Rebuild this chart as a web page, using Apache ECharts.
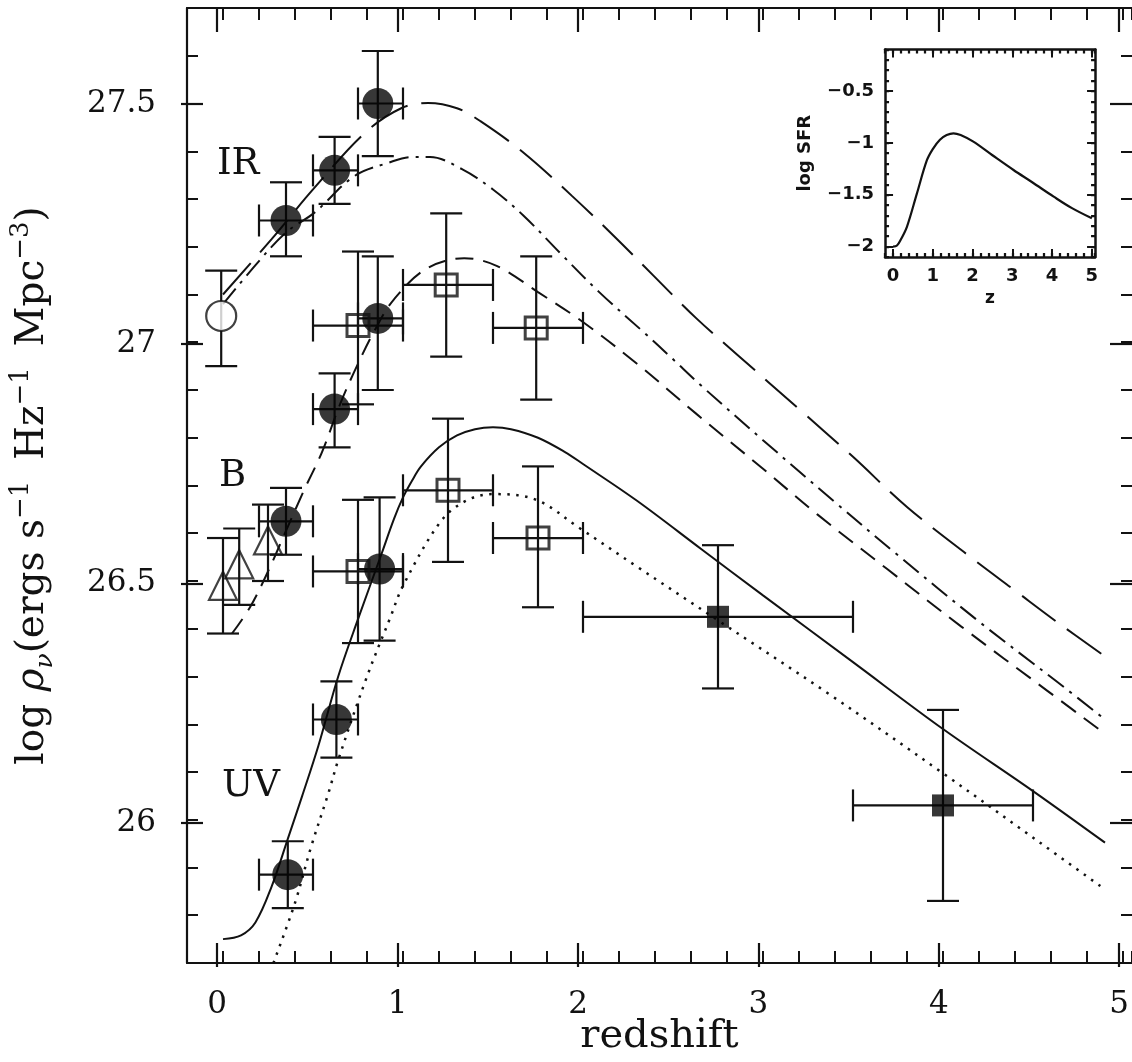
<!DOCTYPE html>
<html><head><meta charset="utf-8">
<script src="https://cdn.jsdelivr.net/npm/echarts@6/dist/echarts.min.js"></script>
<style>html,body{margin:0;padding:0;background:#fff}#c{width:1132px;height:1062px}</style>
</head><body><div id="c"></div>
<script>
// ---------- tick labels ----------
const X_TICKS = [0, 1, 2, 3, 4, 5];
const Y_TICKS = [26, 26.5, 27, 27.5];
const INSET_X_TICKS = [0, 1, 2, 3, 4, 5];
const INSET_Y_TICKS = [-2, -1.5, -1, -0.5];

// ---------- data points: [z, value, zLow, zHigh, valueLow, valueHigh] ----------
const IR_FILLED = [
  [0.35, 27.255, 0.2, 0.5, 27.18, 27.335],
  [0.62, 27.36, 0.5, 0.75, 27.29, 27.43],
  [0.86, 27.50, 0.75, 1.0, 27.39, 27.61]
];
const IR_OPEN = [
  [-0.01, 27.055, null, null, 26.95, 27.15]
];
const B_FILLED = [
  [0.35, 26.625, 0.2, 0.5, 26.555, 26.695],
  [0.62, 26.86, 0.5, 0.75, 26.78, 26.935],
  [0.86, 27.05, 0.75, 1.0, 26.90, 27.18]
];
const B_TRIANGLES = [
  [0.0, 26.49, null, null, 26.39, 26.59],
  [0.09, 26.535, null, null, 26.45, 26.61],
  [0.25, 26.585, null, null, 26.50, 26.66]
];
const B_SQUARES = [
  [0.75, 27.035, 0.5, 1.0, 26.87, 27.19],
  [1.24, 27.12, 1.0, 1.5, 26.97, 27.27],
  [1.74, 27.03, 1.5, 2.0, 26.88, 27.18]
];
const UV_FILLED = [
  [0.36, 25.885, 0.2, 0.5, 25.815, 25.955],
  [0.63, 26.21, 0.5, 0.75, 26.13, 26.29],
  [0.87, 26.525, 0.75, 1.0, 26.375, 26.675]
];
const UV_SQUARES = [
  [0.75, 26.52, 0.5, 1.0, 26.37, 26.67],
  [1.25, 26.69, 1.0, 1.5, 26.54, 26.84],
  [1.75, 26.59, 1.5, 2.0, 26.445, 26.74]
];
const HIGHZ_SQUARES = [
  [2.75, 26.425, 2.0, 3.5, 26.275, 26.575],
  [4.0, 26.03, 3.5, 4.5, 25.83, 26.23]
];

// ---------- model curves: [z, value] ----------
const IR_LONGDASH = [
  [0.0, 27.10], [0.27, 27.216], [0.5, 27.32], [0.79, 27.439], [0.99, 27.49], [1.14, 27.501],
  [1.3, 27.49], [1.43, 27.463], [1.67, 27.397], [1.94, 27.306], [2.17, 27.223], [2.39, 27.14],
  [2.63, 27.05], [2.86, 26.973], [3.2, 26.86], [3.5, 26.76], [3.8, 26.655], [4.17, 26.545],
  [4.4, 26.48], [4.63, 26.415], [4.9, 26.342]
];
const IR_DASHDOT = [
  [0.0, 27.08], [0.2, 27.17], [0.35, 27.23], [0.51, 27.272], [0.73, 27.348], [0.92, 27.376],
  [1.05, 27.388], [1.15, 27.388], [1.33, 27.362], [1.5, 27.32], [1.67, 27.265], [1.87, 27.188],
  [2.09, 27.105], [2.34, 27.02], [2.49, 26.968], [2.66, 26.908], [3.0, 26.795], [3.4, 26.665],
  [3.73, 26.56], [4.2, 26.415], [4.63, 26.29], [4.9, 26.21]
];
const B_DASHED = [
  [0.05, 26.39], [0.15, 26.445], [0.25, 26.52], [0.35, 26.605], [0.45, 26.69], [0.55, 26.77],
  [0.65, 26.87], [0.75, 26.955], [0.85, 27.03], [0.95, 27.09], [1.13, 27.154], [1.34, 27.176],
  [1.52, 27.16], [1.75, 27.105], [1.99, 27.045], [2.3, 26.955], [2.63, 26.85], [3.0, 26.735],
  [3.3, 26.64], [3.69, 26.525], [4.1, 26.405], [4.58, 26.27], [4.9, 26.18]
];
const UV_SOLID = [
  [0.0, 25.75], [0.1, 25.758], [0.18, 25.785], [0.27, 25.86], [0.36, 25.96], [0.44, 26.05],
  [0.53, 26.155], [0.64, 26.3], [0.75, 26.42], [0.88, 26.556], [0.95, 26.63], [1.0, 26.675],
  [1.05, 26.71], [1.1, 26.74], [1.2, 26.78], [1.3, 26.805], [1.4, 26.818], [1.5, 26.822],
  [1.6, 26.818], [1.75, 26.8], [1.9, 26.77], [2.0, 26.745], [2.3, 26.668], [2.66, 26.566],
  [3.0, 26.47], [3.5, 26.33], [4.0, 26.19], [4.5, 26.06], [4.9, 25.952]
];
const UV_DOTTED = [
  [0.28, 25.70], [0.4, 25.826], [0.49, 25.944], [0.585, 26.055], [0.64, 26.125], [0.8, 26.3],
  [0.93, 26.424], [1.0, 26.49], [1.21, 26.625], [1.35, 26.668], [1.5, 26.682], [1.74, 26.67],
  [1.98, 26.611], [2.3, 26.53], [2.74, 26.42], [3.36, 26.265], [3.99, 26.1], [4.65, 25.922],
  [4.9, 25.854]
];
const INSET_SFR = [
  [0.0, -2.0], [0.1, -1.99], [0.2, -1.93], [0.35, -1.81], [0.6, -1.49], [0.85, -1.17],
  [1.0, -1.06], [1.18, -0.97], [1.35, -0.925], [1.52, -0.908], [1.7, -0.925], [2.02, -0.989],
  [2.5, -1.12], [3.03, -1.262], [3.5, -1.38], [4.04, -1.519], [4.5, -1.63], [5.0, -1.728]
];

// ---------- styling ----------
const INK = '#121212';
const SERIF = 'DejaVu Serif';
const SANS = 'DejaVu Sans';

function axisBase(extra) {
  return Object.assign({
    type: 'value',
    axisLine: { show: false, onZero: false },
    axisTick: { show: false },
    axisLabel: { show: false },
    splitLine: { show: false }
  }, extra);
}
function frameAxis(gridIndex, position, min, max, interval, tickLen, lw, showLine) {
  return axisBase({
    gridIndex, position, min, max, interval,
    axisLine: { show: showLine !== false, onZero: false, lineStyle: { color: INK, width: lw } },
    axisTick: { show: true, inside: true, length: tickLen, lineStyle: { color: INK, width: lw * 0.9 } }
  });
}
function tickAxis(gridIndex, position, min, max, interval, tickLen, lw, label) {
  return axisBase({
    gridIndex, position, min, max, interval,
    axisTick: { show: true, inside: true, length: tickLen, lineStyle: { color: INK, width: lw } },
    axisLabel: label || { show: false }
  });
}
function hidden(gridIndex) { return axisBase({ gridIndex, show: false, min: 0, max: 1 }); }

const fmt = (list) => (v) => list.some(t => Math.abs(t - v) < 1e-9) ? String(v).replace('-', '\u2212') : '';

function errorBarItem(params, api) {
  const z = api.value(0), v = api.value(1);
  const zl = api.value(2), zh = api.value(3), vl = api.value(4), vh = api.value(5);
  const cap = 16;
  const st = { stroke: INK, lineWidth: 2.2 };
  const ch = [];
  const seg = (x1, y1, x2, y2) => ch.push({ type: 'line', shape: { x1, y1, x2, y2 }, style: st });
  if (!isNaN(vl) && !isNaN(vh)) {
    const a = api.coord([z, vl]), b = api.coord([z, vh]);
    seg(a[0], a[1], b[0], b[1]);
    seg(a[0] - cap, a[1], a[0] + cap, a[1]);
    seg(b[0] - cap, b[1], b[0] + cap, b[1]);
  }
  if (!isNaN(zl) && !isNaN(zh)) {
    const a = api.coord([zl, v]), b = api.coord([zh, v]);
    seg(a[0], a[1], b[0], b[1]);
    seg(a[0], a[1] - cap, a[0], a[1] + cap);
    seg(b[0], b[1] - cap, b[0], b[1] + cap);
  }
  return { type: 'group', children: ch };
}
function errSeries(rows) {
  return {
    type: 'custom', xAxisIndex: 0, yAxisIndex: 0, renderItem: errorBarItem,
    encode: { x: 0, y: 1 }, data: rows, silent: true, z: 2
  };
}
function markers(rows, symbol, size, itemStyle) {
  return {
    type: 'scatter', xAxisIndex: 0, yAxisIndex: 0, symbol, symbolSize: size,
    data: rows.map(r => [r[0], r[1]]), itemStyle, silent: true, z: 3
  };
}
function curve(pts, type, width, xi, yi) {
  return {
    type: 'line', xAxisIndex: xi || 0, yAxisIndex: yi || 0, data: pts, showSymbol: false,
    smooth: 0.35, silent: true, z: 1,
    lineStyle: { color: INK, width: width, type: type, cap: 'butt' }
  };
}

const filled = { color: '#050505' };
const hollow = { color: 'rgba(0,0,0,0)', borderColor: INK, borderWidth: 2.2 };
const hollowWhite = { color: '#fff', borderColor: INK, borderWidth: 2.2 };
const hollowSquare = { color: 'rgba(0,0,0,0)', borderColor: INK, borderWidth: 3 };

const chart = echarts.init(document.getElementById('c'), null, { renderer: 'canvas' });
chart.setOption({
  animation: false,
  backgroundColor: '#ffffff',
  grid: [
    { left: 181, top: 8, width: 951, height: 959 },
    { left: 217.23, top: 8, width: 905.7, height: 959 },
    { left: 181, top: 103.9, width: 951, height: 719.25 },
    { left: 885.05, top: 49.5, width: 210, height: 207.4 },
    { left: 893, top: 49.5, width: 198.86, height: 207.4 },
    { left: 885.05, top: 91.0, width: 210, height: 155.55 }
  ],
  xAxis: [
    Object.assign(frameAxis(0, 'bottom', -0.2, 5.05, 0.2, 12, 2.2), {
      name: 'redshift', nameLocation: 'middle', nameGap: 54,
      nameTextStyle: { fontFamily: SERIF, fontSize: 40, color: INK }
    }),
    frameAxis(0, 'top', -0.2, 5.05, 0.2, 12, 2.2),
    tickAxis(1, 'bottom', 0, 5, 1, 24, 2.2, {
      show: true, margin: 22, formatter: fmt(X_TICKS),
      fontFamily: SERIF, fontSize: 31, color: INK
    }),
    tickAxis(1, 'top', 0, 5, 1, 24, 2.2),
    hidden(2),
    Object.assign(frameAxis(3, 'bottom', -0.2, 5.08, 0.2, 4, 2.5), {
      name: 'z', nameLocation: 'middle', nameGap: 33,
      nameTextStyle: { fontFamily: SANS, fontWeight: 'bold', fontSize: 17, color: INK }
    }),
    frameAxis(3, 'top', -0.2, 5.08, 0.2, 4, 2.5),
    tickAxis(4, 'bottom', 0, 5, 1, 8, 2, {
      show: true, margin: 10, formatter: fmt(INSET_X_TICKS),
      fontFamily: SANS, fontWeight: 'bold', fontSize: 18, color: INK
    }),
    tickAxis(4, 'top', 0, 5, 1, 8, 2),
    hidden(5)
  ],
  yAxis: [
    Object.assign(frameAxis(0, 'left', 25.7, 27.7, 0.1, 11, 2.2), {
      name: '{a|log }{g|\u03c1}{s|\u03bd}{a|(ergs s}{p|\u22121 }{a| Hz}{p|\u22121 }{a| Mpc}{p|\u22123}{a|)}',
      nameLocation: 'middle', nameRotate: 90, nameGap: 129,
      nameTextStyle: {
        color: INK,
        rich: {
          a: { fontFamily: SERIF, fontSize: 39, lineHeight: 50, color: INK },
          g: { fontFamily: SERIF, fontSize: 39, lineHeight: 50, color: INK, fontStyle: 'italic' },
          s: { fontFamily: SERIF, fontSize: 25, lineHeight: 33, color: INK, verticalAlign: 'bottom', fontStyle: 'italic' },
          p: { fontFamily: SERIF, fontSize: 26, lineHeight: 29, color: INK, verticalAlign: 'top' }
        }
      }
    }),
    frameAxis(0, 'right', 25.7, 27.7, 0.1, 11, 2.2, false),
    hidden(1),
    tickAxis(2, 'left', 26, 27.5, 0.5, 22, 2.2, {
      show: true, margin: 25, formatter: fmt(Y_TICKS),
      fontFamily: SERIF, fontSize: 31, color: INK
    }),
    tickAxis(2, 'right', 26, 27.5, 0.5, 22, 2.2),
    Object.assign(frameAxis(3, 'left', -2.1, -0.1, 0.1, 4, 2.5), {
      name: 'log SFR', nameLocation: 'middle', nameRotate: 90, nameGap: 71,
      nameTextStyle: { fontFamily: SANS, fontWeight: 'bold', fontSize: 18, color: INK }
    }),
    frameAxis(3, 'right', -2.1, -0.1, 0.1, 4, 2.5),
    hidden(4),
    tickAxis(5, 'left', -2, -0.5, 0.5, 8, 2, {
      show: true, margin: 11, formatter: fmt(INSET_Y_TICKS),
      fontFamily: SANS, fontWeight: 'bold', fontSize: 18, color: INK
    }),
    tickAxis(5, 'right', -2, -0.5, 0.5, 8, 2)
  ],
  graphic: [
    { type: 'text', left: 217, top: 146, style: { text: 'IR', fontFamily: SERIF, fontSize: 37, fill: INK } },
    { type: 'text', left: 219, top: 458, style: { text: 'B', fontFamily: SERIF, fontSize: 37, fill: INK } },
    { type: 'text', left: 222, top: 768, style: { text: 'UV', fontFamily: SERIF, fontSize: 37, fill: INK } }
  ],
  series: [
    curve(IR_LONGDASH, [42, 14], 2),
    curve(IR_DASHDOT, [20, 7, 3, 7], 2),
    curve(B_DASHED, [18, 10], 2),
    curve(UV_SOLID, 'solid', 2),
    curve(UV_DOTTED, [2.5, 6.5], 2.5),
    curve(INSET_SFR, 'solid', 2.2, 5, 5),
    errSeries(IR_FILLED), errSeries(IR_OPEN), errSeries(B_FILLED), errSeries(B_TRIANGLES),
    errSeries(B_SQUARES), errSeries(UV_FILLED), errSeries(UV_SQUARES), errSeries(HIGHZ_SQUARES),
    markers(IR_FILLED, 'circle', 31, filled),
    markers(IR_OPEN, 'circle', 30, hollowWhite),
    markers(B_FILLED, 'circle', 31, filled),
    markers(B_TRIANGLES, 'triangle', 28, hollow),
    markers(B_SQUARES, 'rect', 22, hollowSquare),
    markers(UV_FILLED, 'circle', 31, filled),
    markers(UV_SQUARES, 'rect', 22, hollowSquare),
    markers(HIGHZ_SQUARES, 'rect', 22, filled)
  ]
});
</script></body></html>
